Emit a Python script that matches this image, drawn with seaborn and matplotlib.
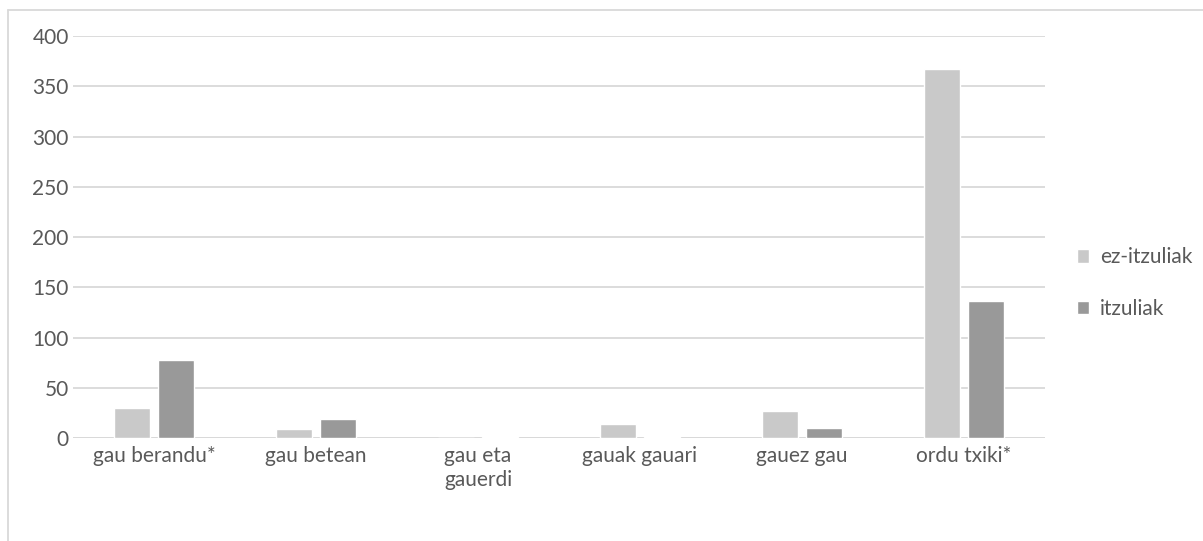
import matplotlib
matplotlib.use("Agg")
import matplotlib.pyplot as plt
from matplotlib.lines import Line2D
import seaborn as sns
import pandas as pd

categories = ["gau berandu*", "gau betean", "gau eta\ngauerdi", "gauak gauari", "gauez gau", "ordu txiki*"]
ez_itzuliak = [30, 9, 0, 14, 27, 367]
itzuliak = [78, 19, 1, 1, 10, 136]
series_names = ["ez-itzuliak", "itzuliak"]
colors = ["#C9C9C9", "#999999"]

df = pd.DataFrame({
    "kategoria": categories * 2,
    "balioa": ez_itzuliak + itzuliak,
    "saila": [series_names[0]] * len(categories) + [series_names[1]] * len(categories),
})

sns.set_theme(style="white")
plt.rcParams["font.family"] = ["Lato", "DejaVu Sans"]

W, H = 1203, 541
fig = plt.figure(figsize=(W / 100, H / 100), dpi=100)
ax = fig.add_axes([73 / W, 1 - 438 / H, (1045 - 73) / W, (438 - 36) / H])

sns.barplot(data=df, x="kategoria", y="balioa", hue="saila", palette=colors,
            width=0.54, gap=0.18, ax=ax, saturation=1, errorbar=None, zorder=3)

ax.set_ylim(0, 400)
ax.set_yticks(range(0, 401, 50))
ax.set_xlim(-0.5, len(categories) - 0.5)
ax.yaxis.grid(True, color="#D9D9D9", linewidth=1.3, zorder=0)
ax.set_axisbelow(True)
for s in ax.spines.values():
    s.set_visible(False)
ax.axhline(0, color="#D9D9D9", linewidth=1.3, zorder=2)
ax.set_xlabel("")
ax.set_ylabel("")
ax.tick_params(axis="both", length=0, labelsize=15, colors="#595959")
ax.tick_params(axis="y", pad=3)
ax.tick_params(axis="x", pad=6)
for t in ax.get_xticklabels():
    t.set_linespacing(1.2)

leg = ax.legend(loc="center left", bbox_to_anchor=(1058 / W, 1 - 283 / H),
                bbox_transform=fig.transFigure, frameon=False,
                fontsize=15, handlelength=0.6, handleheight=0.6, handletextpad=0.5,
                labelspacing=1.5, labelcolor="#595959")

# outer chart frame
fig.add_artist(Line2D([8 / W, 8 / W], [0, 1 - 10 / H], transform=fig.transFigure,
                      color="#D9D9D9", linewidth=1.3))
fig.add_artist(Line2D([8 / W, 1], [1 - 10 / H, 1 - 10 / H], transform=fig.transFigure,
                      color="#D9D9D9", linewidth=1.3))

fig.savefig("out.png", dpi=100)
